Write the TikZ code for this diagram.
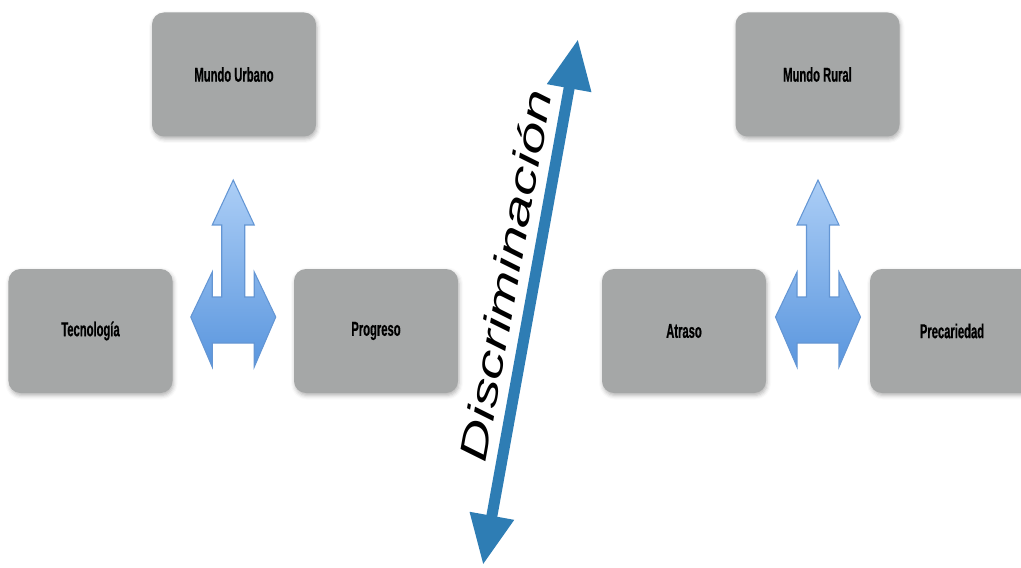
\documentclass[tikz,border=0pt]{standalone}
\usepackage{fontspec}
\setmainfont{Liberation Sans}
\newfontfamily\boxfont[FakeStretch=0.56,FakeBold=0.6]{Liberation Sans Bold}
\newfontfamily\discfont[FakeStretch=1.5]{Liberation Sans Italic}
\usetikzlibrary{arrows.meta, calc, shadows.blur}
\definecolor{boxGray}{RGB}{165,167,167}
\definecolor{hubTop}{RGB}{172,206,246}
\definecolor{hubBot}{RGB}{90,150,222}
\definecolor{hubLine}{RGB}{100,150,212}
\definecolor{discBlue}{RGB}{46,125,180}

\begin{document}
\begin{tikzpicture}[
  box/.style={rounded corners=2.4mm,fill=boxGray,minimum width=32.8mm,
              minimum height=24.8mm,inner sep=1mm,
              font=\boxfont\fontsize{11.4}{13}\selectfont,
              blur shadow={shadow xshift=0.2mm,shadow yshift=-0.5mm,
                           shadow blur radius=0.8mm,shadow opacity=30}},
  hubfill/.style={top color=hubTop,bottom color=hubBot,draw=hubLine,
                  line width=0.6pt,line join=miter},
  hubarrow/.pic={
    \path[hubfill] (0,2.74) -- (0.42,1.84) -- (0.23,1.84) -- (0.23,0.40)
      -- (0.42,0.40) -- (0.42,0.90) -- (0.85,0) -- (0.42,-1.0) -- (0.42,-0.52)
      -- (-0.42,-0.52) -- (-0.42,-1.0) -- (-0.85,0) -- (-0.42,0.90)
      -- (-0.42,0.40) -- (-0.23,0.40) -- (-0.23,1.84) -- (-0.42,1.84) -- cycle;
  },
  discarr/.style={draw=discBlue,line width=2.2mm,
                  {Triangle[length=10mm,width=8.4mm]}-{Triangle[length=10mm,width=8.4mm]}},
  disclbl/.style={font=\discfont\fontsize{22}{26}\selectfont,inner sep=0pt}]

\useasboundingbox (0,0) rectangle (20.42,11.34);

% ===== left side: urban world =====
\node[box] (urb)  at (4.68,9.85)  {Mundo Urbano};
\node[box] (tec)  at (1.81,4.72)  {Tecnología};
\node[box] (prog) at (7.52,4.72)  {Progreso};
\coordinate (hubL) at ($(tec)!0.5!(prog)+(0,0.28)$);
\pic at (hubL) {hubarrow};

% ===== right side: rural world =====
\node[box] (rur)  at (16.35,9.85) {Mundo Rural};
\node[box] (atr)  at (13.68,4.72) {Atraso};
\node[box] (prec) at (19.04,4.72) {Precariedad};
\coordinate (hubR) at ($(atr)!0.5!(prec)+(0,0.28)$);
\pic at (hubR) {hubarrow};

% ===== diagonal axis in the middle =====
\coordinate (discBot) at (9.66,0.04);
\coordinate (discTop) at (11.56,10.56);
\draw[discarr] (discBot) -- (discTop);
\coordinate (discMid) at ($(discBot)!0.54!(discTop)$);
\node[disclbl,rotate=79.8] (disc) at ($(discMid)!5.9mm!90:(discTop)$) {Discriminación};
\end{tikzpicture}
\end{document}
